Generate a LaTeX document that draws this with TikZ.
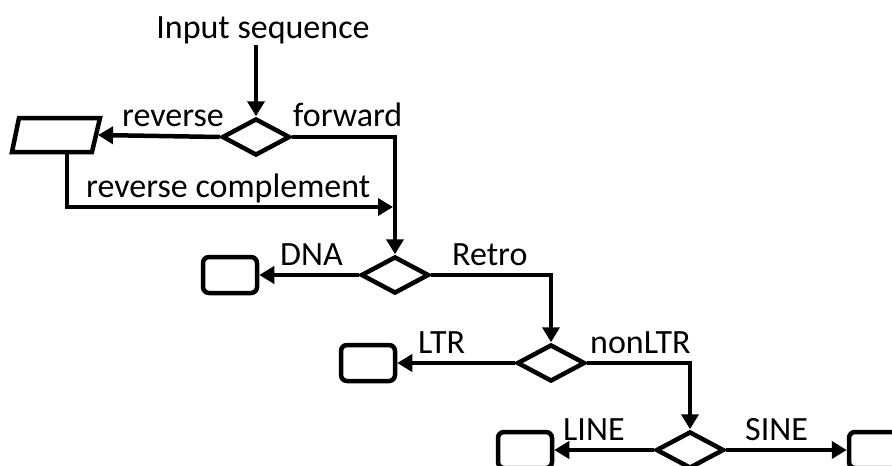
\documentclass[tikz,border=0pt]{standalone}
\usepackage{fontspec}
\setmainfont{Carlito}
\usetikzlibrary{shapes.geometric,arrows.meta,calc}
\begin{document}
\begin{tikzpicture}[x=1pt,y=-1pt,
  every node/.style={font=\fontsize{34}{40}\selectfont},
  lbl/.style={inner sep=0pt,anchor=base west},
  dec/.style={draw,line width=4.5pt,shape=diamond,minimum width=68pt,minimum height=37pt,inner sep=0pt},
  endbox/.style={draw,line width=4.5pt,rounded corners=6pt,minimum width=54pt,minimum height=36pt,inner sep=0pt},
  arr/.style={line width=4.5pt,-{Triangle[length=15pt,width=17pt]}}]
\useasboundingbox (0,0) rectangle (892,466);
\clip (0,0) rectangle (892,466);
% nodes
\node[inner sep=1pt,anchor=base] (title) at (263,38) {Input sequence};
\node[dec] (d1) at (256,137) {};
\node[minimum width=80pt,minimum height=34pt,inner sep=0pt,outer sep=0pt] (par) at (56,135) {};
\draw[line width=4.5pt,line join=miter] ($(par.north west)+(3,0)$) -- ($(par.north east)+(4,0)$)
  -- ($(par.south east)+(-4,0)$) -- ($(par.south west)+(-4,0)$) -- cycle;
\node[dec] (d2) at (395,275) {};
\node[endbox] (b2) at (230,275) {};
\node[dec] (d3) at (551,363) {};
\node[endbox] (b3) at (368,363) {};
\node[dec] (d4) at (690,450) {};
\node[endbox] (b4) at (525,450) {};
\node[endbox] (b5) at (876,450) {};
\coordinate (rc) at (395,207);
% labels
\node[lbl] (lrev) at (122,126) {reverse};
\node[lbl] (lfwd) at (293,126) {forward};
\node[lbl] (lrc) at (86,197) {reverse complement};
\node[lbl] (ldna) at (280,265) {DNA};
\node[lbl] (lretro) at (452,265) {Retro};
\node[lbl] (lltr) at (418,353) {LTR};
\node[lbl] (lnon) at (590,353) {nonLTR};
\node[lbl] (lline) at (563,440) {LINE};
\node[lbl] (lsine) at (745,440) {SINE};
% connectors
\draw[arr] (title.south -| d1.north) -- (d1.north);
\draw[arr] (d1.west) -- ($(par.east)+(2,0)$);
\draw[arr] (d1.east) -| (d2.north);
\draw[arr] ($(par.south)+(11,0)$) |- ([xshift=-2pt]rc);
\draw[arr] (d2.west) -- (b2.east);
\draw[arr] (d2.east) -| (d3.north);
\draw[arr] (d3.west) -- (b3.east);
\draw[arr] (d3.east) -| (d4.north);
\draw[arr] (d4.west) -- (b4.east);
\draw[arr] (d4.east) -- (b5.west);
\end{tikzpicture}
\end{document}
